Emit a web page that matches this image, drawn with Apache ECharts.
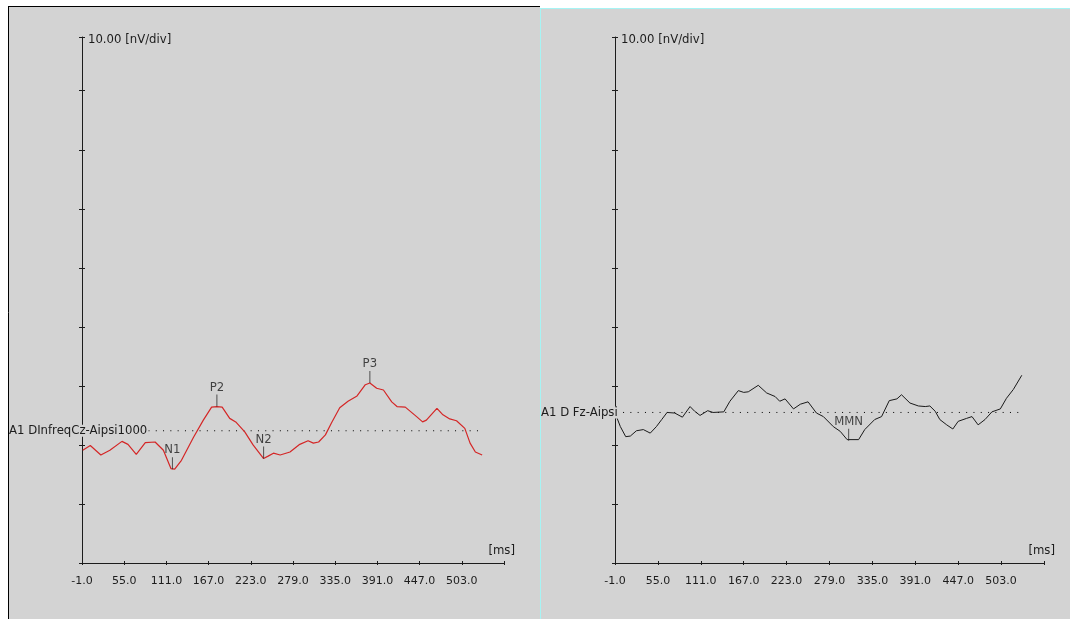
<!DOCTYPE html>
<html>
<head>
<meta charset="utf-8">
<script src="https://cdn.jsdelivr.net/npm/echarts@6/dist/echarts.min.js"></script>
<style>
  html, body { margin: 0; padding: 0; background: #ffffff; }
  #main { width: 1070px; height: 619px; }
</style>
</head>
<body>
<div id="main"></div>
<script>
// ---- Channel A1 DInfreqCz-Aipsi1000 (red trace) ----
const timeMsA = [0, 10, 24, 36, 52, 60, 71, 83, 96, 107, 117, 119, 122, 131, 147, 160, 171, 178, 185, 195,
  203, 215, 226, 240, 246, 253, 262, 275, 288, 299, 306, 313, 322, 330, 341, 352, 364, 375, 381, 390,
  399, 410, 417, 428, 443, 451, 456, 470, 478, 487, 496, 507, 514, 521, 530];
const ampA = [-3.3, -2.5, -4.1, -3.3, -1.8, -2.3, -4.0, -2.0, -1.9, -3.3, -6.4, -6.5, -6.5, -5.0, -1.1, 1.8, 4.0, 4.1, 4.0, 2.1,
  1.5, -0.2, -2.4, -4.7, -4.3, -3.8, -4.1, -3.6, -2.3, -1.7, -2.1, -1.9, -0.7, 1.3, 3.9, 5.0, 5.9, 7.8, 8.1, 7.2,
  6.9, 4.9, 4.1, 4.0, 2.4, 1.5, 1.8, 3.8, 2.7, 2.0, 1.7, 0.4, -2.1, -3.6, -4.1];
const peakNamesA = ['N1', 'P2', 'N2', 'P3'];
const peakMsA = [119, 178, 240, 381];
const peakAmpA = [-6.5, 4.1, -4.7, 8.1];
const channelA = 'A1 DInfreqCz-Aipsi1000';

// ---- Channel A1 D Fz-Aipsi (black trace) ----
const timeMsB = [0, 6, 13, 19, 27, 36, 45, 53, 60, 67, 77, 87, 97, 103, 110, 120, 127, 141, 149, 160,
  167, 173, 186, 197, 208, 214, 221, 232, 241, 251, 262, 271, 284, 293, 302, 304, 317, 325, 338, 347,
  357, 367, 373, 384, 395, 404, 410, 417, 423, 432, 440, 447, 458, 465, 473, 482, 491, 502, 510, 519, 530];
const ampB = [-0.4, -2.4, -4.1, -4.0, -3.1, -2.9, -3.5, -2.4, -1.2, 0.0, -0.1, -0.8, 1.0, 0.2, -0.5, 0.3, 0.0, 0.1, 1.9, 3.7,
  3.4, 3.5, 4.6, 3.3, 2.7, 1.9, 2.3, 0.6, 1.4, 1.8, -0.1, -0.7, -2.4, -3.2, -4.6, -4.8, -4.6, -2.9, -1.2, -0.7,
  2.0, 2.3, 3.0, 1.6, 1.1, 1.0, 1.1, 0.2, -1.2, -2.1, -2.8, -1.5, -1.0, -0.7, -2.1, -1.2, 0.1, 0.6, 2.4, 3.9, 6.3];
const peakNamesB = ['MMN'];
const peakMsB = [304];
const peakAmpB = [-4.8];
const channelB = 'A1 D Fz-Aipsi';

// ---- Axis scales ----
const timeMin = -1, timeMax = 559, timeStep = 56;   // ms
const ampStep = 10;                                   // nV per division
const ampRangeA = [-22.4, 66.7];
const ampRangeB = [-25.5, 63.6];
const ampAxisTitle = '10.00 [nV/div]';
const timeAxisTitle = '[ms]';

const FONT = 'DejaVu Sans';
const TICK_SIZE = 11;
const TEXT_SIZE = 11.7;
const INK = '#1c1c1c';
const PANEL = '#d3d3d3';

const zip = (xs, ys) => xs.map((x, i) => [x, ys[i]]);

function timeAxes(gridIndex) {
  const base = { type: 'value', gridIndex, min: timeMin, max: timeMax, interval: timeStep,
    splitLine: { show: false }, position: 'bottom' };
  return [
    Object.assign({}, base, {
      name: timeAxisTitle, nameLocation: 'end', nameGap: 11,
      nameTextStyle: { fontFamily: FONT, fontSize: TEXT_SIZE, color: INK, align: 'right', verticalAlign: 'bottom', padding: [0, 0, 6, 0] },
      axisLine: { show: true, onZero: false, lineStyle: { color: INK, width: 1 } },
      axisTick: { show: true, inside: false, length: 2, lineStyle: { color: INK } },
      axisLabel: { show: true, margin: 13, fontFamily: FONT, fontSize: TICK_SIZE, color: INK,
        formatter: v => (v >= timeMax ? '' : v.toFixed(1)) }
    }),
    Object.assign({}, base, {
      axisLine: { show: false, onZero: false },
      axisTick: { show: true, inside: true, length: 2, lineStyle: { color: INK } },
      axisLabel: { show: false }
    })
  ];
}

function ampAxes(gridIndex, range) {
  const base = { type: 'value', gridIndex, min: range[0], max: range[1], interval: ampStep,
    splitLine: { show: false }, position: 'left' };
  return [
    Object.assign({}, base, {
      name: ampAxisTitle, nameLocation: 'end', nameGap: -3,
      nameTextStyle: { fontFamily: FONT, fontSize: TEXT_SIZE, color: INK, align: 'left', verticalAlign: 'middle', padding: [0, 0, 0, 6] },
      axisLine: { show: true, onZero: false, lineStyle: { color: INK, width: 1 } },
      axisTick: { show: true, inside: false, length: 3, lineStyle: { color: INK } },
      axisLabel: { show: false }
    }),
    Object.assign({}, base, {
      axisLine: { show: false, onZero: false },
      axisTick: { show: true, inside: true, length: 3, lineStyle: { color: INK } },
      axisLabel: { show: false }
    })
  ];
}

function traceSeries(axisIndex, times, amps, color, width) {
  return {
    type: 'line', xAxisIndex: axisIndex, yAxisIndex: axisIndex,
    data: zip(times, amps), showSymbol: false, symbol: 'none',
    lineStyle: { color, width }, z: 5, silent: true
  };
}

function baselineSeries(axisIndex, times) {
  return {
    type: 'line', xAxisIndex: axisIndex, yAxisIndex: axisIndex,
    data: [[times[0], 0], [times[times.length - 1], 0]],
    showSymbol: false, symbol: 'none',
    lineStyle: { color: '#000000', width: 1, type: [1, 6.3] }, z: 3, silent: true
  };
}

function peakSeries(axisIndex, names, ms, amps) {
  return {
    type: 'scatter', xAxisIndex: axisIndex, yAxisIndex: axisIndex,
    data: names.map((n, i) => ({ name: n, value: [ms[i], amps[i]] })),
    symbol: 'rect', symbolSize: [1, 12], symbolOffset: [0, -6],
    itemStyle: { color: '#303030' },
    label: { show: true, position: 'top', distance: 1, formatter: '{b}',
      fontFamily: FONT, fontSize: TEXT_SIZE, color: INK },
    z: 6, silent: true
  };
}

const chart = echarts.init(document.getElementById('main'), null, { renderer: 'canvas' });

chart.setOption({
  animation: false,
  backgroundColor: '#ffffff',
  textStyle: { fontFamily: FONT },
  grid: [
    { left: 82, top: 37, width: 422, height: 526 },
    { left: 615, top: 37, width: 429, height: 526 }
  ],
  xAxis: [...timeAxes(0), ...timeAxes(1)],
  yAxis: [...ampAxes(0, ampRangeA), ...ampAxes(1, ampRangeB)],
  series: [
    baselineSeries(0, timeMsA),
    traceSeries(0, timeMsA, ampA, '#d42626', 1.2),
    peakSeries(0, peakNamesA, peakMsA, peakAmpA),
    baselineSeries(2, timeMsB),
    traceSeries(2, timeMsB, ampB, '#1a1a1a', 1),
    peakSeries(2, peakNamesB, peakMsB, peakAmpB)
  ],
  graphic: [
    // left panel: gray face with black top/left edge
    { id: 'panelA', type: 'rect', z: -10, shape: { x: 8, y: 6, width: 532, height: 613 }, style: { fill: PANEL } },
    { id: 'edgeAtop', type: 'line', z: -9, shape: { x1: 8, y1: 6.5, x2: 540, y2: 6.5 }, style: { stroke: '#000', lineWidth: 1 } },
    { id: 'edgeAleft', type: 'line', z: -9, shape: { x1: 8.5, y1: 6, x2: 8.5, y2: 619 }, style: { stroke: '#000', lineWidth: 1 } },
    // right panel: gray face with cyan top/left edge
    { id: 'panelB', type: 'rect', z: -10, shape: { x: 540, y: 8, width: 530, height: 611 }, style: { fill: PANEL } },
    { id: 'edgeBtop', type: 'line', z: -9, shape: { x1: 540, y1: 8.5, x2: 1070, y2: 8.5 }, style: { stroke: '#a6f4f4', lineWidth: 1 } },
    { id: 'edgeBleft', type: 'line', z: -9, shape: { x1: 540.5, y1: 8, x2: 540.5, y2: 619 }, style: { stroke: '#a6f4f4', lineWidth: 1 } }
  ]
});

// channel captions sit on each zero line, starting at the panel's left edge
const zeroA = chart.convertToPixel({ xAxisIndex: 0, yAxisIndex: 0 }, [0, 0]);
const zeroB = chart.convertToPixel({ xAxisIndex: 2, yAxisIndex: 2 }, [0, 0]);
function caption(id, text, x, y) {
  return { id, type: 'text', z: 100, x, y,
    style: { text, font: TEXT_SIZE + 'px "' + FONT + '"', fill: INK, align: 'left', verticalAlign: 'middle',
      backgroundColor: PANEL, padding: [0, 1, 0, 0] } };
}
chart.setOption({
  graphic: [caption('capA', channelA, 9, zeroA[1]), caption('capB', channelB, 541, zeroB[1])]
});
</script>
</body>
</html>
